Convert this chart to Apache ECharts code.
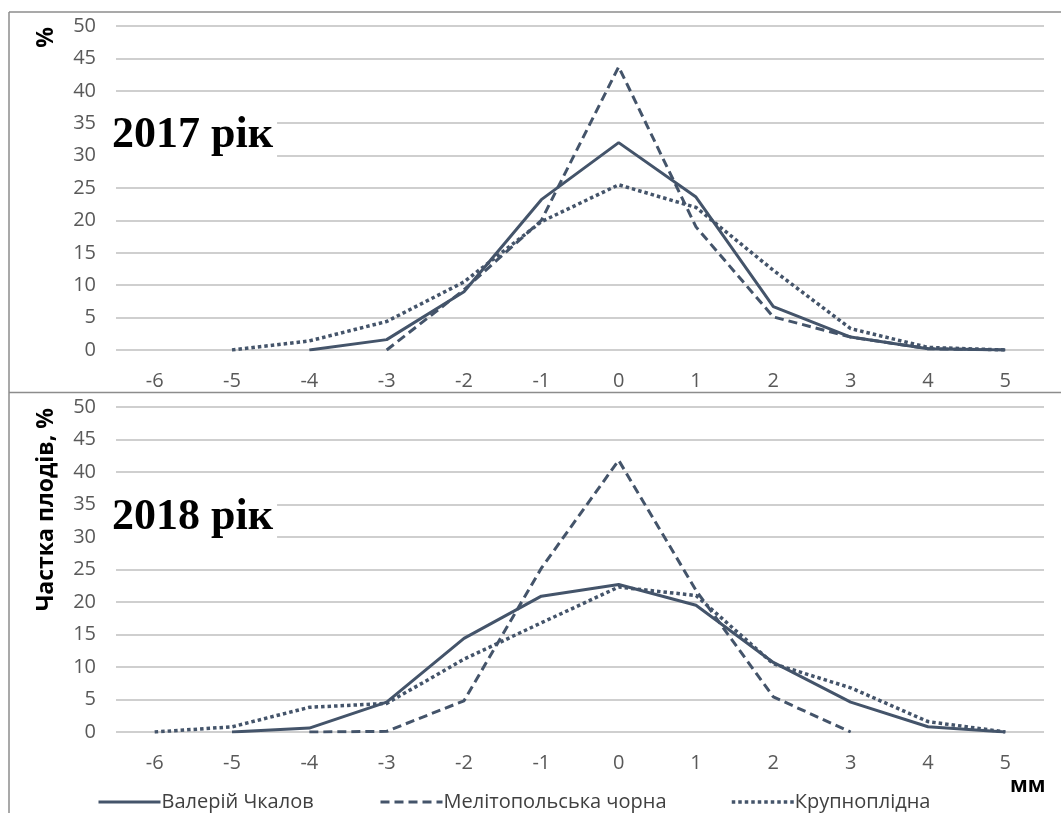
<!DOCTYPE html>
<html>
<head>
<meta charset="utf-8">
<script src="https://cdn.jsdelivr.net/npm/echarts@6/dist/echarts.min.js"></script>
<style>
  html, body { margin: 0; padding: 0; background: #fff; }
  #chart { width: 1061px; height: 813px; }
</style>
</head>
<body>
<div id="chart"></div>
<script>
// відхилення від середнього, мм
const categories = ['-6', '-5', '-4', '-3', '-2', '-1', '0', '1', '2', '3', '4', '5'];

// 2017 рік
const chkalov2017 = [null, null, 0, 1.6, 9.0, 23.2, 32.0, 23.6, 6.7, 2.0, 0.2, 0];
const melit2017 = [null, null, null, 0, 9.3, 20.0, 43.7, 19.0, 5.1, 2.0, 0.2, 0];
const krupn2017 = [null, 0, 1.4, 4.4, 10.5, 19.8, 25.5, 22.0, 12.3, 3.3, 0.4, 0];

// 2018 рік
const chkalov2018 = [null, 0, 0.6, 4.6, 14.4, 20.9, 22.7, 19.5, 10.7, 4.6, 0.8, 0];
const melit2018 = [null, null, 0, 0.1, 4.8, 25.2, 41.8, 21.8, 5.4, 0, null, null];
const krupn2018 = [0, 0.8, 3.8, 4.4, 11.2, 16.8, 22.3, 21.0, 10.5, 6.8, 1.6, 0];

const seriesNames = ['Валерій Чкалов', 'Мелітопольська чорна', 'Крупноплідна'];
const yTicks = { min: 0, max: 50, interval: 5 };

const LINE = '#44546a';
const FONT = '"Open Sans", "Noto Sans", sans-serif';
const dashTypes = ['solid', [9, 5], [3.5, 3]];
const lineWidths = [3, 3, 3.5];

function makeSeries(name, idx, data, axisIdx) {
  return {
    name: name,
    type: 'line',
    xAxisIndex: axisIdx,
    yAxisIndex: axisIdx,
    data: data,
    symbol: 'none',
    connectNulls: false,
    lineStyle: { color: LINE, width: lineWidths[idx], type: dashTypes[idx], cap: 'butt' },
    itemStyle: { color: LINE },
  };
}

function xAxisOpt(gridIndex) {
  return {
    type: 'category',
    gridIndex: gridIndex,
    data: categories,
    boundaryGap: true,
    axisLine: { show: false },
    axisTick: { show: false },
    axisLabel: { color: '#595959', fontSize: 20, fontFamily: FONT, margin: 21 },
  };
}

function yAxisOpt(gridIndex) {
  return {
    type: 'value',
    gridIndex: gridIndex,
    min: yTicks.min,
    max: yTicks.max,
    interval: yTicks.interval,
    axisLine: { show: false },
    axisTick: { show: false },
    axisLabel: { color: '#595959', fontSize: 20, fontFamily: FONT, margin: 20 },
    splitLine: { lineStyle: { color: '#bfbfbf', width: 1.5 } },
  };
}

function yearLabel(text, y) {
  return {
    type: 'text',
    left: 110,
    top: y,
    z: 100,
    style: {
      text: text,
      font: 'bold 44px "Liberation Serif", "DejaVu Serif", serif',
      fill: '#000',
      backgroundColor: '#fff',
      padding: [10, 4, 8, 2],
    },
  };
}

function frameLine(x1, y1, x2, y2) {
  return {
    type: 'line',
    z: 100,
    shape: { x1: x1, y1: y1, x2: x2, y2: y2 },
    style: { stroke: '#8c8c8c', lineWidth: 1.5 },
  };
}

function legendOpt(name, idx, left) {
  return {
    data: [name],
    left: left,
    top: 787,
    itemWidth: 62,
    itemHeight: 22,
    itemGap: 4,
    itemStyle: { opacity: 0 },
    lineStyle: { width: lineWidths[idx], type: dashTypes[idx], color: LINE, cap: 'butt' },
    textStyle: { color: '#404040', fontSize: 20, fontFamily: FONT, padding: [0, 0, 0, -4] },
  };
}

const chart = echarts.init(document.getElementById('chart'), null, { renderer: 'canvas' });

chart.setOption({
  animation: false,
  backgroundColor: '#fff',
  grid: [
    { left: 116, right: 17, top: 26, height: 324 },
    { left: 116, right: 17, top: 407, height: 325 },
  ],
  xAxis: [xAxisOpt(0), xAxisOpt(1)],
  yAxis: [yAxisOpt(0), yAxisOpt(1)],
  legend: [
    legendOpt(seriesNames[0], 0, 92),
    legendOpt(seriesNames[1], 1, 374),
    legendOpt(seriesNames[2], 2, 725),
  ],
  series: [
    makeSeries(seriesNames[0], 0, chkalov2017, 0),
    makeSeries(seriesNames[1], 1, melit2017, 0),
    makeSeries(seriesNames[2], 2, krupn2017, 0),
    makeSeries(seriesNames[0], 0, chkalov2018, 1),
    makeSeries(seriesNames[1], 1, melit2018, 1),
    makeSeries(seriesNames[2], 2, krupn2018, 1),
  ],
  graphic: [
    // рамки діаграм
    frameLine(9, 12, 1061, 12),
    frameLine(9, 12, 9, 813),
    frameLine(9, 392.5, 1061, 392.5),
    yearLabel('2017 рік', 104),
    yearLabel('2018 рік', 486),
    // підписи осі Y
    {
      type: 'text',
      x: 46,
      y: 27,
      rotation: Math.PI / 2,
      style: { text: '%', font: 'bold 23px ' + FONT, fill: '#000', align: 'right', verticalAlign: 'middle' },
    },
    {
      type: 'text',
      x: 46,
      y: 408,
      rotation: Math.PI / 2,
      style: { text: 'Частка плодів, %', font: 'bold 23px ' + FONT, fill: '#000', align: 'right', verticalAlign: 'middle' },
    },
    {
      type: 'text',
      x: 1010,
      y: 786,
      style: { text: 'мм', font: 'bold 21px ' + FONT, fill: '#000', verticalAlign: 'middle' },
    },
  ],
});
</script>
</body>
</html>
